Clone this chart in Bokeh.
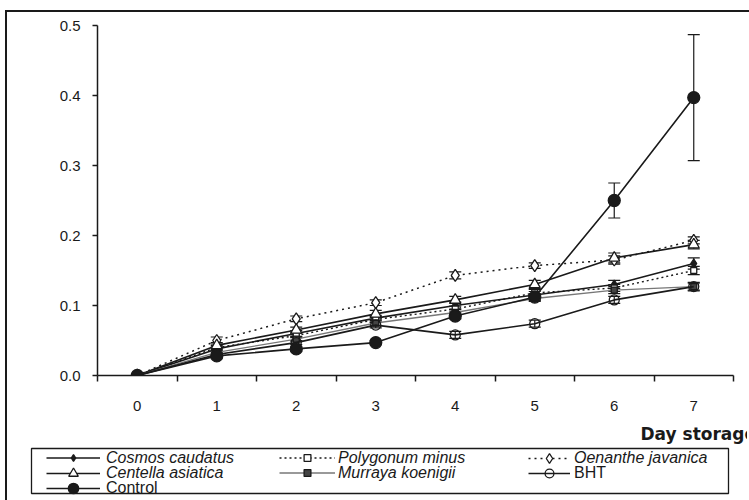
from bokeh.plotting import figure
from bokeh.models import (Range1d, FixedTicker, NumeralTickFormatter, Whisker,
                          ColumnDataSource, Legend, LegendItem, BoxAnnotation,
                          Label, TeeHead)
from bokeh.embed import file_html
from bokeh.resources import INLINE

# ---------------- data ----------------
days = [0, 1, 2, 3, 4, 5, 6, 7]
y_ticks = [0.0, 0.1, 0.2, 0.3, 0.4, 0.5]
x_label = "Day storage"

cosmos      = [0.0, 0.038, 0.060, 0.082, 0.100, 0.115, 0.130, 0.160]
cosmos_sd   = [0.0, 0.003, 0.004, 0.004, 0.005, 0.005, 0.006, 0.008]
polygonum   = [0.0, 0.040, 0.057, 0.080, 0.095, 0.118, 0.125, 0.150]
polygonum_sd= [0.0, 0.003, 0.003, 0.004, 0.004, 0.005, 0.005, 0.006]
oenanthe    = [0.0, 0.050, 0.081, 0.104, 0.143, 0.157, 0.165, 0.193]
oenanthe_sd = [0.0, 0.005, 0.004, 0.004, 0.005, 0.004, 0.006, 0.005]
centella    = [0.0, 0.043, 0.065, 0.088, 0.108, 0.130, 0.168, 0.187]
centella_sd = [0.0, 0.004, 0.004, 0.005, 0.005, 0.006, 0.007, 0.006]
murraya     = [0.0, 0.033, 0.052, 0.075, 0.090, 0.110, 0.122, 0.127]
murraya_sd  = [0.0, 0.003, 0.003, 0.004, 0.004, 0.004, 0.005, 0.005]
bht         = [0.0, 0.030, 0.047, 0.072, 0.058, 0.074, 0.108, 0.127]
bht_sd      = [0.0, 0.003, 0.003, 0.004, 0.005, 0.005, 0.005, 0.006]
control     = [0.0, 0.028, 0.038, 0.047, 0.085, 0.112, 0.250, 0.397]
control_sd  = [0.0, 0.002, 0.003, 0.003, 0.004, 0.005, 0.025, 0.090]

# ---------------- layout constants ----------------
CW = 742                    # canvas width
FL, FT, FW, FH = 90, 13, 636, 350
PH = 411                    # main figure height
LH = 77                     # legend strip height
INK = "#1a1a1a"
FONT = "Liberation Sans"

series = [
    dict(name="Cosmos caudatus", y=cosmos, sd=cosmos_sd, marker="diamond", size=9,
         fill=INK, falpha=1, dash="solid", color=INK, lw=1.6, italic=True, pos=(0, 0), gh=17),
    dict(name="Polygonum minus", y=polygonum, sd=polygonum_sd, marker="square", size=6,
         fill="white", falpha=1, dash="2 3", color=INK, lw=1.4, italic=True, pos=(1, 0), gh=17),
    dict(name="Oenanthe javanica", y=oenanthe, sd=oenanthe_sd, marker="diamond", size=12,
         fill="white", falpha=1, dash="2 4", color=INK, lw=1.5, italic=True, pos=(2, 0), gh=24),
    dict(name="Centella asiatica", y=centella, sd=centella_sd, marker="triangle", size=11,
         fill="white", falpha=1, dash="solid", color=INK, lw=1.6, italic=True, pos=(0, 1), gh=24),
    dict(name="Murraya koenigii", y=murraya, sd=murraya_sd, marker="square", size=6,
         fill="#444444", falpha=1, dash="solid", color="#777777", lw=1.3, italic=True, pos=(1, 1), gh=17),
    dict(name="BHT", y=bht, sd=bht_sd, marker="circle", size=10,
         fill="white", falpha=0, dash="solid", color=INK, lw=1.6, italic=False, pos=(2, 1), gh=22),
    dict(name="Control", y=control, sd=control_sd, marker="circle", size=12,
         fill=INK, falpha=1, dash="solid", color=INK, lw=1.6, italic=False, pos=(0, 2), gh=26),
]

# ---------------- main chart ----------------
p = figure(frame_width=FW, frame_height=FH, output_backend="svg", toolbar_location=None,
           x_range=Range1d(-0.5, 7.5), y_range=Range1d(0, 0.5),
           min_border_left=FL, min_border_top=FT,
           min_border_right=CW - FL - FW, min_border_bottom=PH - FT - FH)
p.outline_line_color = None
p.xgrid.visible = False
p.ygrid.visible = False
p.styles = {"border-left": "2px solid #1a1a1a", "border-top": "2px solid #1a1a1a",
            "margin-top": "10px", "margin-left": "5px"}

xa = p.xaxis[0]
xa.ticker = FixedTicker(ticks=days, minor_ticks=[d - 0.5 for d in days] + [days[-1] + 0.5])
xa.major_tick_out = 0
xa.major_tick_in = 0
xa.minor_tick_out = 6
xa.minor_tick_in = 0
xa.minor_tick_line_color = INK
xa.minor_tick_line_width = 1.5
xa.axis_line_color = INK
xa.axis_line_width = 1.5
xa.major_label_text_font = FONT
xa.major_label_text_font_size = "15px"
xa.major_label_text_color = INK
xa.major_label_standoff = 19

ya = p.yaxis[0]
ya.ticker = FixedTicker(ticks=y_ticks, minor_ticks=[])
ya.formatter = NumeralTickFormatter(format="0.0")
ya.major_tick_out = 5
ya.major_tick_in = 0
ya.major_tick_line_color = INK
ya.major_tick_line_width = 1.5
ya.axis_line_color = INK
ya.axis_line_width = 1.5
ya.major_label_text_font = FONT
ya.major_label_text_font_size = "15px"
ya.major_label_text_color = INK
ya.major_label_standoff = 12

for s in series:
    src = ColumnDataSource(dict(x=days, y=s["y"]))
    p.line("x", "y", source=src, line_color=s["color"], line_width=s["lw"], line_dash=s["dash"])
    ex = [d for d, e in zip(days, s["sd"]) if e > 0]
    up = [v + e for v, e in zip(s["y"], s["sd"]) if e > 0]
    lo = [v - e for v, e in zip(s["y"], s["sd"]) if e > 0]
    wsrc = ColumnDataSource(dict(x=ex, up=up, lo=lo))
    p.add_layout(Whisker(source=wsrc, base="x", upper="up", lower="lo",
                         line_color=INK, line_width=1.2,
                         upper_head=TeeHead(size=12, line_color=INK, line_width=1.2),
                         lower_head=TeeHead(size=12, line_color=INK, line_width=1.2)))
    p.scatter("x", "y", source=src, marker=s["marker"], size=s["size"],
              fill_color=s["fill"], fill_alpha=s["falpha"], line_color=INK, line_width=1.3)

# ---------------- legend strip (separate root, no frame alignment) ----------------
q = figure(width=CW, height=LH, output_backend="svg", toolbar_location=None,
           x_range=Range1d(0, CW), y_range=Range1d(LH, 0),
           x_axis_type=None, y_axis_type=None, min_border=0)
q.outline_line_color = None
q.xgrid.visible = False
q.ygrid.visible = False
q.styles = {"border-left": "2px solid #1a1a1a", "margin-left": "5px"}

col_x = [39, 272, 521]       # glyph start of each legend column
col_gw = [54, 56, 42]
col_so = [6, 3, 4]
row_c = [35, 50, 65]         # row centres

for s in series:
    # off-canvas proxy glyphs carrying the series style for the legend
    proxy = ColumnDataSource(dict(x=[-1000, -999], y=[-1000, -1000]))
    ln = q.line("x", "y", source=proxy, line_color=s["color"], line_width=s["lw"],
                line_dash=s["dash"])
    sc = q.scatter("x", "y", source=proxy, marker=s["marker"], size=s["size"],
                   fill_color=s["fill"], fill_alpha=s["falpha"], line_color=INK, line_width=1.3)
    c, r = s["pos"]
    gh = s["gh"]
    q.add_layout(Legend(items=[LegendItem(label=s["name"], renderers=[ln, sc])],
                        location=(col_x[c], LH - (row_c[r] + gh / 2)),
                        orientation="vertical", margin=0, padding=0, spacing=0,
                        glyph_width=col_gw[c], glyph_height=gh, label_height=gh,
                        label_standoff=col_so[c], border_line_alpha=0,
                        background_fill_alpha=0,
                        label_text_font=FONT, label_text_font_size="16px",
                        label_text_font_style="italic" if s["italic"] else "normal",
                        label_text_color=INK, label_text_baseline="middle"))

q.add_layout(BoxAnnotation(left=24, right=721, top=25, bottom=70,
                           fill_alpha=0, line_color=INK, line_alpha=1, line_width=1.3))
q.add_layout(Label(x=633, y=10, text=x_label, text_font="DejaVu Sans",
                   text_font_style="bold", text_font_size="17px", text_color=INK,
                   text_baseline="alphabetic", text_align="left"))

open("out.html", "w").write(file_html([p, q], INLINE))
